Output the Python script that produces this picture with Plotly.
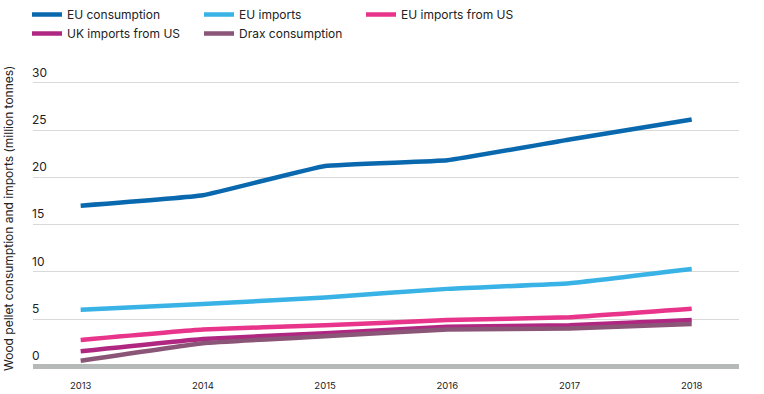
import plotly.graph_objects as go

years = [2013, 2014, 2015, 2016, 2017, 2018]
eu_consumption = [17.0, 18.1, 21.2, 21.8, 24.0, 26.1]
eu_imports = [6.0, 6.6, 7.3, 8.2, 8.8, 10.3]
eu_imports_us = [2.8, 3.9, 4.35, 4.9, 5.2, 6.1]
uk_imports_us = [1.6, 2.9, 3.5, 4.2, 4.35, 4.9]
drax_consumption = [0.6, 2.45, 3.2, 3.9, 4.0, 4.5]

y_ticks = [0, 5, 10, 15, 20, 25, 30]
y_title = "Wood pellet consumption and imports (million tonnes)"

series = [
    ("EU consumption", eu_consumption, "#0a69ae", "legend"),
    ("EU imports", eu_imports, "#39b2e5", "legend2"),
    ("EU imports from US", eu_imports_us, "#e8348a", "legend3"),
    ("UK imports from US", uk_imports_us, "#b02782", "legend"),
    ("Drax consumption", drax_consumption, "#8b5577", "legend2"),
]

fig = go.Figure()
for name, vals, color, leg in series:
    fig.add_trace(go.Scatter(
        x=years, y=vals, name=name, mode="lines",
        line=dict(color=color, width=4.5, shape="spline", smoothing=0.3),
        legend=leg,
    ))

font_family = "Inter, Roboto, sans-serif"


def legend_at(px):
    return dict(
        orientation="v", xref="container", yref="container",
        x=px / 764, y=1.0, xanchor="left", yanchor="top",
        font=dict(size=12, color="#222222"), itemwidth=30,
        bgcolor="rgba(0,0,0,0)", tracegroupgap=0,
    )


fig.update_layout(
    width=764, height=394,
    margin=dict(l=33, r=25, t=55, b=20, autoexpand=False),
    plot_bgcolor="white", paper_bgcolor="white",
    font=dict(family=font_family, size=12, color="#222222"),
    legend=legend_at(27),
    legend2=legend_at(199),
    legend3=legend_at(361),
    showlegend=True,
    annotations=[dict(
        text=y_title, xref="paper", yref="paper",
        x=-25 / 706, y=0.489, xanchor="center", yanchor="middle",
        textangle=-90, showarrow=False,
        font=dict(size=12, color="#222222"),
    )],
)

fig.update_xaxes(
    range=[2012.61, 2018.387],
    tickmode="array", tickvals=years, ticktext=[str(y) for y in years],
    showgrid=False, zeroline=False, showline=False, ticks="",
    tickfont=dict(size=9.5, color="#222222"),
    ticklabelstandoff=4,
    automargin=False,
)
fig.update_yaxes(
    range=[-0.8, 32.93],
    tickmode="array", tickvals=y_ticks, ticktext=[str(v) for v in y_ticks],
    ticklabelposition="inside top",
    ticklabelstandoff=-4, ticklabelshift=-2,
    showgrid=True, gridcolor="#d9d9d9", gridwidth=1,
    zeroline=True, zerolinecolor="#b5b9b8", zerolinewidth=5,
    showline=False, ticks="",
    tickfont=dict(size=12, color="#222222"),
    automargin=False,
)

fig.write_html("out.html", config={"displayModeBar": False},
               post_script="document.body.style.margin='0';")
